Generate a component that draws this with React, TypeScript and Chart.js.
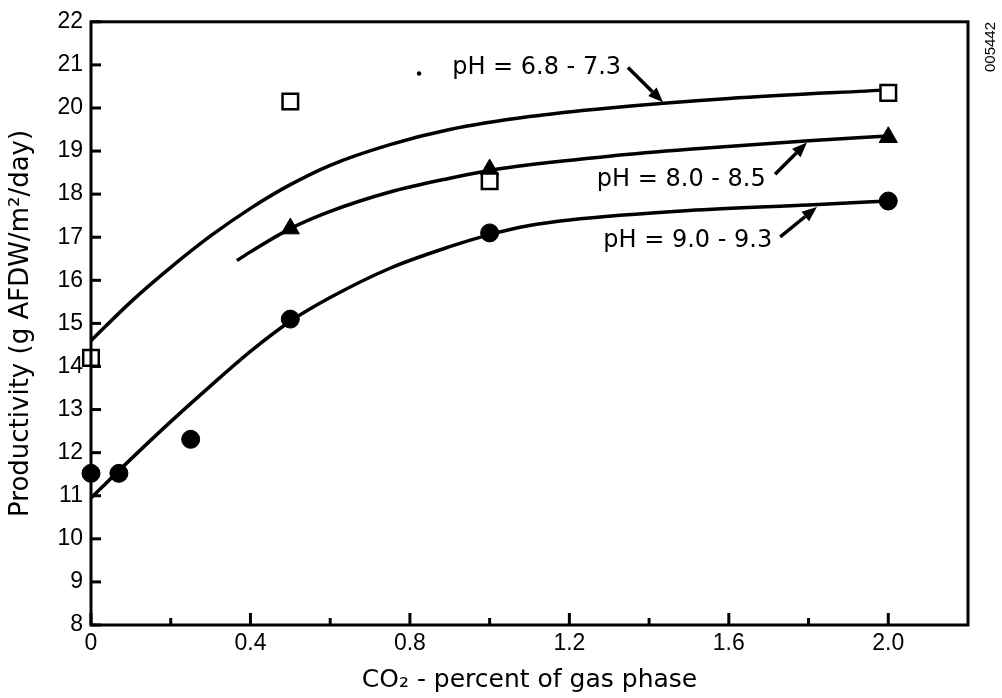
import React, { useEffect, useRef } from 'react';
import { Chart, registerables } from 'chart.js';

Chart.register(...registerables);

// ---- axis ticks ----
const X_TICKS = [0, 0.4, 0.8, 1.2, 1.6, 2.0];
const X_TICK_LABELS = ['0', '0.4', '0.8', '1.2', '1.6', '2.0'];
const X_MINOR_TICKS = [0.2, 0.6, 1.0, 1.4, 1.8];
const Y_TICKS = [8, 9, 10, 11, 12, 13, 14, 15, 16, 17, 18, 19, 20, 21, 22];

// ---- measured points ----
// pH 6.8 - 7.3 (open squares)
const SQUARE_X = [0, 0.5, 1.0, 2.0];
const SQUARE_Y = [14.2, 20.15, 18.3, 20.35];
// pH 8.0 - 8.5 (filled triangles)
const TRIANGLE_X = [0.5, 1.0, 2.0];
const TRIANGLE_Y = [17.2, 18.57, 19.32];
// pH 9.0 - 9.3 (filled circles)
const CIRCLE_X = [0, 0.07, 0.25, 0.5, 1.0, 2.0];
const CIRCLE_Y = [11.52, 11.52, 12.31, 15.1, 17.1, 17.84];

// ---- hand-drawn fitted curves ----
const CURVE_HIGH_X = [0, 0.1, 0.2, 0.3, 0.4, 0.5, 0.6, 0.75, 0.9, 1.1, 1.3, 1.6, 2.0];
const CURVE_HIGH_Y = [14.6, 15.5, 16.3, 17.03, 17.67, 18.22, 18.67, 19.15, 19.5, 19.8, 20.0, 20.22, 20.42];
const CURVE_MID_X = [0.366, 0.4, 0.5, 0.6, 0.75, 0.9, 1.0, 1.1, 1.3, 1.5, 1.8, 2.0];
const CURVE_MID_Y = [16.46, 16.66, 17.2, 17.6, 18.05, 18.37, 18.55, 18.68, 18.88, 19.04, 19.24, 19.35];
const CURVE_LOW_X = [0, 0.1, 0.2, 0.3, 0.4, 0.5, 0.6, 0.75, 0.9, 1.0, 1.1, 1.2, 1.5, 1.8, 2.0];
const CURVE_LOW_Y = [10.95, 11.85, 12.72, 13.55, 14.35, 15.05, 15.6, 16.28, 16.78, 17.06, 17.27, 17.4, 17.62, 17.75, 17.84];

// ---- text ----
const SERIES_LABELS = ['pH = 6.8 - 7.3', 'pH = 8.0 - 8.5', 'pH = 9.0 - 9.3'];
const X_TITLE = 'CO\u2082 - percent of gas phase';
const Y_TITLE = 'Productivity (g AFDW/m\u00B2/day)';
const FIGURE_ID = '005442';

// annotation placement in data units (label anchor + arrow)
const ANNOTATIONS = [
  { label: 0, x: 0.906, y: 20.94, from: [1.347, 20.94], to: [1.435, 20.13] },
  { label: 1, x: 1.269, y: 18.34, from: [1.716, 18.46], to: [1.796, 19.2] },
  { label: 2, x: 1.285, y: 16.92, from: [1.729, 17.01], to: [1.821, 17.7] },
];
const STRAY_DOT = [0.823, 20.8];

const pts = (xs: number[], ys: number[]) => xs.map((x, i) => ({ x, y: ys[i] }));

const TICK_FONT = { family: '"Liberation Sans", Arial, sans-serif', size: 23 };
const TEXT_FAMILY = '"DejaVu Sans", sans-serif';

const framePlugin = {
  id: 'frameAndNotes',
  afterDraw(chart: any) {
    const { ctx, chartArea, scales } = chart;
    const { left, right, top, bottom } = chartArea;
    const x = scales.x;
    const y = scales.y;
    ctx.save();
    ctx.strokeStyle = '#000';
    ctx.fillStyle = '#000';
    ctx.lineWidth = 3;
    ctx.lineCap = 'butt';
    ctx.strokeRect(left, top, right - left, bottom - top);

    // inward ticks
    ctx.lineWidth = 3;
    Y_TICKS.forEach((v) => {
      const py = y.getPixelForValue(v);
      ctx.beginPath();
      ctx.moveTo(left, py);
      ctx.lineTo(left + 10, py);
      ctx.stroke();
    });
    X_TICKS.forEach((v) => {
      const px = x.getPixelForValue(v);
      ctx.beginPath();
      ctx.moveTo(px, bottom);
      ctx.lineTo(px, bottom - 12);
      ctx.stroke();
    });
    X_MINOR_TICKS.forEach((v) => {
      const px = x.getPixelForValue(v);
      ctx.beginPath();
      ctx.moveTo(px, bottom);
      ctx.lineTo(px, bottom - 7);
      ctx.stroke();
    });

    // annotations
    ctx.font = `24px ${TEXT_FAMILY}`;
    ctx.textAlign = 'left';
    ctx.textBaseline = 'middle';
    ANNOTATIONS.forEach((a) => {
      ctx.fillText(SERIES_LABELS[a.label], x.getPixelForValue(a.x), y.getPixelForValue(a.y));
      const x0 = x.getPixelForValue(a.from[0]);
      const y0 = y.getPixelForValue(a.from[1]);
      const x1 = x.getPixelForValue(a.to[0]);
      const y1 = y.getPixelForValue(a.to[1]);
      const ang = Math.atan2(y1 - y0, x1 - x0);
      const headLen = 15;
      const headW = 6;
      const bx = x1 - Math.cos(ang) * headLen;
      const by = y1 - Math.sin(ang) * headLen;
      ctx.lineWidth = 3.5;
      ctx.beginPath();
      ctx.moveTo(x0, y0);
      ctx.lineTo(bx, by);
      ctx.stroke();
      ctx.beginPath();
      ctx.moveTo(x1, y1);
      ctx.lineTo(bx + Math.sin(ang) * headW, by - Math.cos(ang) * headW);
      ctx.lineTo(bx - Math.sin(ang) * headW, by + Math.cos(ang) * headW);
      ctx.closePath();
      ctx.fill();
    });

    ctx.beginPath();
    ctx.arc(x.getPixelForValue(STRAY_DOT[0]), y.getPixelForValue(STRAY_DOT[1]), 2.2, 0, Math.PI * 2);
    ctx.fill();

    // figure id, rotated
    ctx.save();
    ctx.translate(chart.width - 11, 47);
    ctx.rotate(-Math.PI / 2);
    ctx.font = '15px "Liberation Sans", Arial, sans-serif';
    ctx.textAlign = 'center';
    ctx.textBaseline = 'middle';
    ctx.fillText(FIGURE_ID, 0, 0);
    ctx.restore();

    ctx.restore();
  },
};

export default function App() {
  const ref = useRef<HTMLCanvasElement | null>(null);

  useEffect(() => {
    if (!ref.current) return;
    const lineDs = (xs: number[], ys: number[]) => ({
      data: pts(xs, ys),
      showLine: true,
      borderColor: '#000',
      borderWidth: 3.5,
      pointRadius: 0,
      cubicInterpolationMode: 'monotone' as const,
      fill: false,
    });
    const chart = new Chart(ref.current, {
      type: 'scatter',
      data: {
        datasets: [
          {
            data: pts(SQUARE_X, SQUARE_Y),
            pointStyle: 'rect',
            pointRadius: 11,
            backgroundColor: '#fff',
            borderColor: '#000',
            borderWidth: 2.5,
            clip: false,
          },
          {
            data: pts(TRIANGLE_X, TRIANGLE_Y),
            pointStyle: 'triangle',
            pointRadius: 10.5,
            backgroundColor: '#000',
            borderColor: '#000',
            borderWidth: 1,
            clip: false,
          },
          {
            data: pts(CIRCLE_X, CIRCLE_Y),
            pointStyle: 'circle',
            pointRadius: 9,
            backgroundColor: '#000',
            borderColor: '#000',
            borderWidth: 1,
            clip: false,
          },
          lineDs(CURVE_HIGH_X, CURVE_HIGH_Y),
          lineDs(CURVE_MID_X, CURVE_MID_Y),
          lineDs(CURVE_LOW_X, CURVE_LOW_Y),
        ] as any,
      },
      options: {
        animation: false,
        responsive: false,
        devicePixelRatio: 1,
        events: [],
        layout: { padding: { left: 0, top: 17, right: 34, bottom: 0 } },
        plugins: { legend: { display: false }, tooltip: { enabled: false } },
        scales: {
          x: {
            type: 'linear',
            min: 0,
            max: 2.2,
            afterBuildTicks: (s: any) => {
              s.ticks = X_TICKS.map((v) => ({ value: v }));
            },
            afterFit: (s: any) => {
              s.height = 73;
            },
            grid: { display: false, drawTicks: false },
            border: { display: false },
            ticks: {
              color: '#000',
              font: TICK_FONT,
              padding: 5,
              maxRotation: 0,
              autoSkip: false,
              callback: (v: any) => {
                const i = X_TICKS.indexOf(Number(v));
                return i >= 0 ? X_TICK_LABELS[i] : '';
              },
            },
            title: {
              display: true,
              text: X_TITLE,
              color: '#000',
              font: { family: TEXT_FAMILY, size: 25 },
              padding: { top: 0, bottom: 3 },
            },
          },
          y: {
            type: 'linear',
            min: 8,
            max: 22,
            afterBuildTicks: (s: any) => {
              s.ticks = Y_TICKS.map((v) => ({ value: v }));
            },
            afterFit: (s: any) => {
              s.width = 91;
            },
            grid: { display: false, drawTicks: false },
            border: { display: false },
            ticks: {
              color: '#000',
              font: TICK_FONT,
              padding: 8,
              autoSkip: false,
            },
            title: {
              display: true,
              text: Y_TITLE,
              color: '#000',
              font: { family: TEXT_FAMILY, size: 26 },
              padding: { top: 6, bottom: 0 },
            },
          },
        },
      },
      plugins: [framePlugin],
    });
    return () => chart.destroy();
  }, []);

  return (
    <div style={{ position: 'fixed', left: 0, top: 0, width: 1002, height: 698, background: '#fff' }}>
      <canvas ref={ref} width={1002} height={698} style={{ display: 'block' }} />
    </div>
  );
}
